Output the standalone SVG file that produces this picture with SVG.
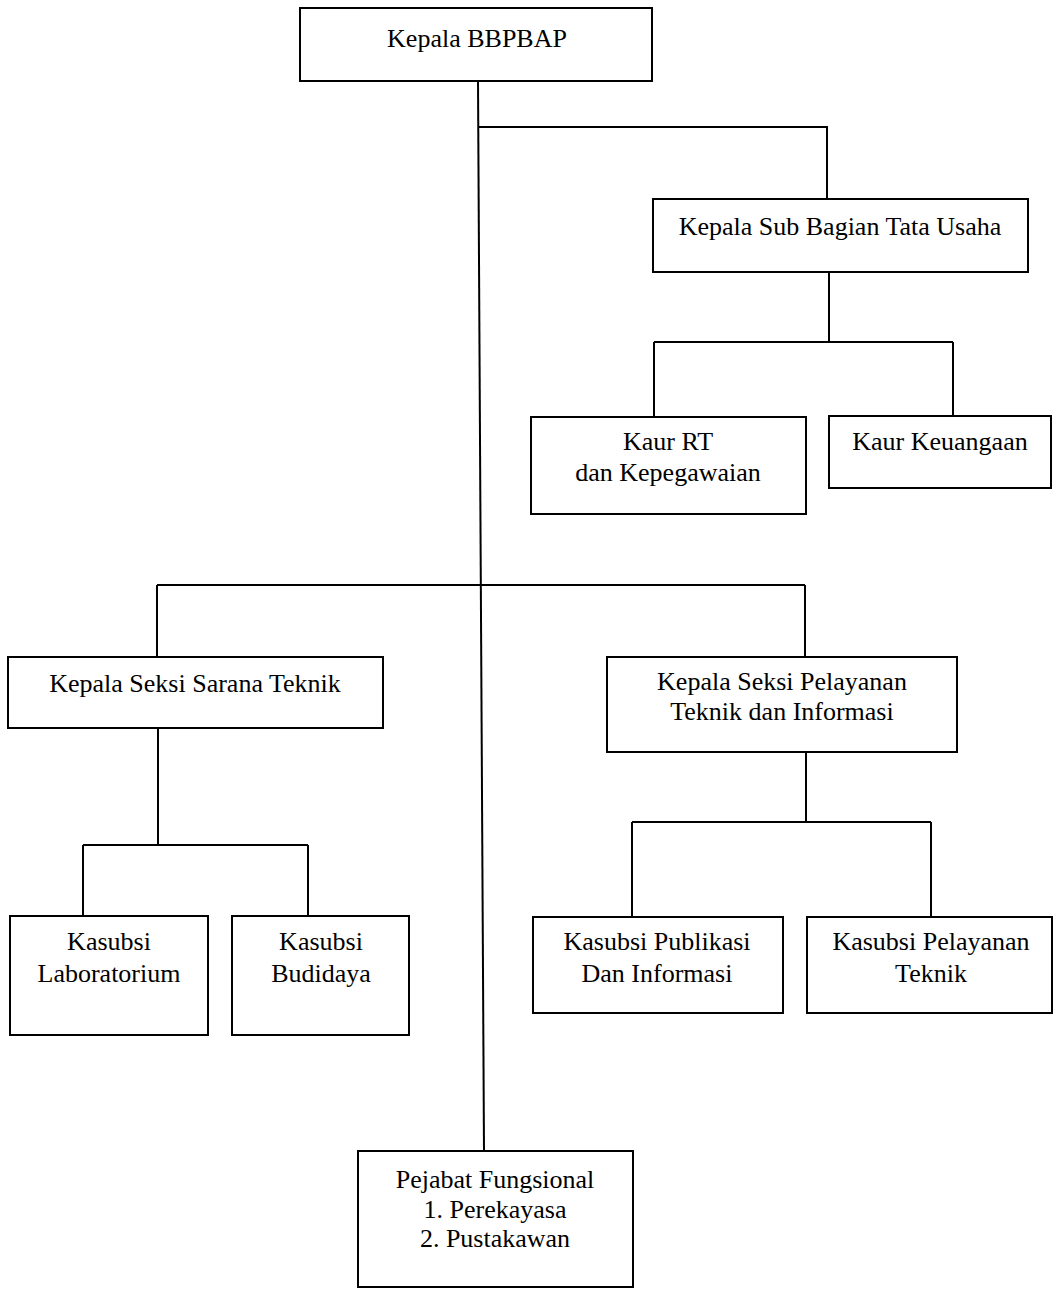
<svg xmlns="http://www.w3.org/2000/svg" width="1054" height="1295" viewBox="0 0 1054 1295">
<style>
rect{fill:#fff;stroke:#000;stroke-width:2}
text{font-family:"Liberation Serif","Times New Roman",serif;font-size:26px;fill:#000;text-anchor:middle}
#connectors path{fill:none;stroke:#000;stroke-width:2}
</style>
<rect x="0" y="0" width="1054" height="1295" style="stroke:none"/>
<g id="connectors">
<path d="M478 81 L484 1151"/>
<path d="M479 127 H827 V199"/>
<path d="M829 272 V342 M654 342 H953 M654 342 V417 M953 342 V416"/>
<path d="M157 585 H805 M157 585 V657 M805 585 V657"/>
<path d="M158 728 V845 M83 845 H308 M83 845 V916 M308 845 V916"/>
<path d="M806 752 V822 M632 822 H931 M632 822 V917 M931 822 V917"/>
</g>
<g id="kepala"><rect x="300" y="8" width="352" height="73"/><text x="477" y="47">Kepala BBPBAP</text></g>
<g id="subbag"><rect x="653" y="199" width="375" height="73"/><text x="840" y="235">Kepala Sub Bagian Tata Usaha</text></g>
<g id="kaurrt"><rect x="531" y="417" width="275" height="97"/><text x="668" y="450">Kaur RT</text><text x="668" y="481">dan Kepegawaian</text></g>
<g id="kaurkeu"><rect x="829" y="416" width="222" height="72"/><text x="940" y="450">Kaur Keuangaan</text></g>
<g id="seksisarana"><rect x="8" y="657" width="375" height="71"/><text x="195" y="692">Kepala Seksi Sarana Teknik</text></g>
<g id="seksipelayanan"><rect x="607" y="657" width="350" height="95"/><text x="782" y="690">Kepala Seksi Pelayanan</text><text x="782" y="720">Teknik dan Informasi</text></g>
<g id="lab"><rect x="10" y="916" width="198" height="119"/><text x="109" y="950">Kasubsi</text><text x="109" y="982">Laboratorium</text></g>
<g id="budidaya"><rect x="232" y="916" width="177" height="119"/><text x="321" y="950">Kasubsi</text><text x="321" y="982">Budidaya</text></g>
<g id="publikasi"><rect x="533" y="917" width="250" height="96"/><text x="657" y="950">Kasubsi Publikasi</text><text x="657" y="982">Dan Informasi</text></g>
<g id="pelayanan"><rect x="807" y="917" width="245" height="96"/><text x="931" y="950">Kasubsi Pelayanan</text><text x="931" y="982">Teknik</text></g>
<g id="pejabat"><rect x="358" y="1151" width="275" height="136"/><text x="495" y="1188">Pejabat Fungsional</text><text x="495" y="1218">1. Perekayasa</text><text x="495" y="1247">2. Pustakawan</text></g>
</svg>
